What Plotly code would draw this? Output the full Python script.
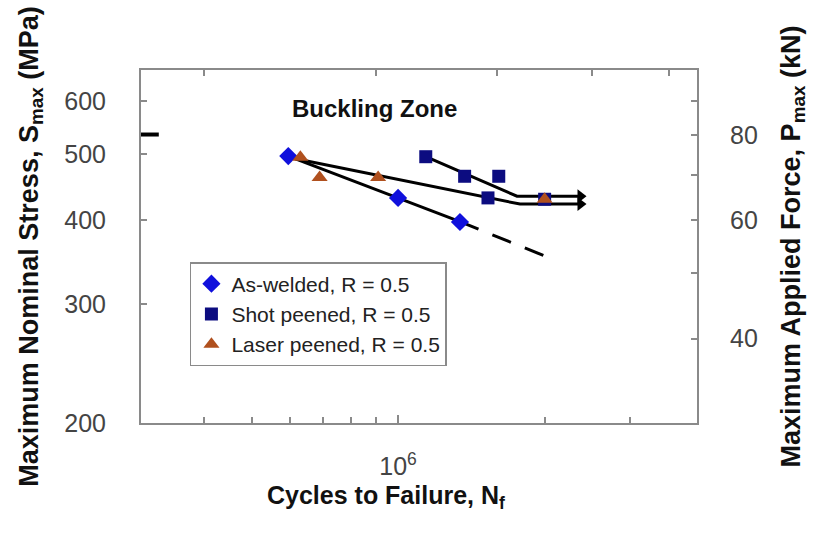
import math
import plotly.graph_objects as go

# ---- data ----
aw_N = [5.95e5, 1.0e6, 1.34e6]
aw_S = [497, 431, 397]

sp_N = [1.14e6, 1.37e6, 1.61e6, 1.53e6, 2.0e6]
sp_S = [496, 464, 464, 431, 429]

lp_N = [6.3e5, 6.9e5, 9.1e5, 2.0e6]
lp_S = [495, 462, 462, 429]

aw_fit_N = [5.95e5, 1.34e6]
aw_fit_S = [497, 397.5]
aw_ext_N = [1.34e6, 2.03e6]
aw_ext_S = [397.5, 352]

sp_fit_N = [1.14e6, 1.755e6, 2.37e6]
sp_fit_S = [496, 433.5, 433.5]
lp_fit_N = [5.95e5, 1.78e6, 2.37e6]
lp_fit_S = [495, 422, 422]

buckling_S = 535

x_major = [1e6]
x_major_text = ["10<sup>6</sup>"]
x_minor = [4e5, 5e5, 6e5, 7e5, 8e5, 9e5, 2e6, 3e6]
x_top_ticks = [4.0e5, 9.0e5, 1.6e6, 2.5e6, 3.6e6]
y_ticks = [200, 300, 400, 500, 600]
p_major = [40, 60, 80]
p_minor = [50, 70, 90]

AREA = 0.15  # kN per MPa
S_RANGE = [200, 666.7]
N_RANGE = [10 ** 5.472, 10 ** 6.614]

FONT = "Liberation Sans, Arial, sans-serif"
FRAME = "#8a8a8a"
TICKC = "#444444"
TITLEC = "#111111"

fig = go.Figure()

line_style = dict(color="black", width=3)
fig.add_trace(go.Scatter(x=aw_fit_N, y=aw_fit_S, mode="lines", line=line_style,
                         showlegend=False, hoverinfo="skip"))
fig.add_trace(go.Scatter(x=aw_ext_N, y=aw_ext_S, mode="lines",
                         line=dict(color="black", width=3, dash="20px,15px"),
                         showlegend=False, hoverinfo="skip"))
fig.add_trace(go.Scatter(x=sp_fit_N, y=sp_fit_S, mode="lines", line=line_style,
                         showlegend=False, hoverinfo="skip"))
fig.add_trace(go.Scatter(x=lp_fit_N, y=lp_fit_S, mode="lines", line=line_style,
                         showlegend=False, hoverinfo="skip"))
fig.add_trace(go.Scatter(x=[sp_fit_N[-1], lp_fit_N[-1]], y=[sp_fit_S[-1], lp_fit_S[-1]],
                         mode="markers",
                         marker=dict(symbol="triangle-right", size=12, color="black"),
                         showlegend=False, hoverinfo="skip"))

fig.add_trace(go.Scatter(x=aw_N, y=aw_S, mode="markers", name="As-welded, R = 0.5",
                         marker=dict(symbol="diamond", size=14, color="#1010dc")))
fig.add_trace(go.Scatter(x=sp_N, y=sp_S, mode="markers", name="Shot peened, R = 0.5",
                         marker=dict(symbol="square", size=13, color="#0c0c80")))
fig.add_trace(go.Scatter(x=lp_N, y=lp_S, mode="markers", name="Laser peened, R = 0.5",
                         marker=dict(symbol="triangle-up", size=14, color="#b0501e")))

# invisible traces so the top and right axes are drawn
fig.add_trace(go.Scatter(x=[1e6], y=[300], xaxis="x2", yaxis="y", mode="markers",
                         marker=dict(opacity=0), showlegend=False, hoverinfo="skip"))
fig.add_trace(go.Scatter(x=[1e6], y=[300 * AREA], xaxis="x", yaxis="y2", mode="markers",
                         marker=dict(opacity=0), showlegend=False, hoverinfo="skip"))

fig.add_shape(type="line", xref="x domain", yref="y", x0=0, x1=0.032,
              y0=buckling_S, y1=buckling_S, line=dict(color="black", width=4))

fig.add_annotation(text="<b>Buckling Zone</b>", xref="paper", yref="paper",
                   x=0.42, y=0.892, xanchor="center", yanchor="middle", showarrow=False,
                   font=dict(family=FONT, size=24, color=TITLEC))

fig.add_annotation(text="<b>Cycles to Failure, N<sub>f</sub></b>", xref="paper", yref="paper",
                   x=0.44, y=-0.21, xanchor="center", yanchor="middle", showarrow=False,
                   font=dict(family=FONT, size=25, color=TITLEC))

tick_common = dict(ticks="inside", tickcolor=FRAME, tickwidth=1.5,
                   showline=True, linecolor=FRAME, linewidth=2,
                   showgrid=False, zeroline=False)

fig.update_layout(
    width=815, height=535,
    margin=dict(l=141, r=118, t=70, b=112),
    plot_bgcolor="white", paper_bgcolor="white",
    font=dict(family=FONT, color=TICKC),
    xaxis=dict(type="log", range=[math.log10(N_RANGE[0]), math.log10(N_RANGE[1])],
               tickmode="array", tickvals=x_major, ticktext=x_major_text, ticklen=8,
               tickfont=dict(size=25, color=TICKC), ticklabelstandoff=20,
               minor=dict(tickmode="array", tickvals=x_minor, ticks="inside",
                          ticklen=6, tickcolor=FRAME, tickwidth=1.5),
               **tick_common),
    xaxis2=dict(type="log", range=[math.log10(N_RANGE[0]), math.log10(N_RANGE[1])],
                overlaying="x", side="top", tickmode="array", tickvals=[], ticklen=6,
                minor=dict(tickmode="array", tickvals=x_top_ticks, ticks="inside",
                           ticklen=6, tickcolor=FRAME, tickwidth=1.5),
                **tick_common),
    yaxis=dict(type="log", range=[math.log10(S_RANGE[0]), math.log10(S_RANGE[1])],
               tickmode="array", tickvals=y_ticks, ticktext=[str(v) for v in y_ticks],
               ticklen=6, tickfont=dict(size=25, color=TICKC), ticklabelstandoff=28,
               title=dict(text="<b>Maximum Nominal Stress, S<sub>max</sub> (MPa)</b>",
                          standoff=18, font=dict(size=27, color=TITLEC)),
               **tick_common),
    yaxis2=dict(type="log", range=[math.log10(S_RANGE[0] * AREA), math.log10(S_RANGE[1] * AREA)],
                overlaying="y", side="right", tickmode="array", tickvals=p_major,
                ticktext=[str(v) for v in p_major], ticklen=6,
                minor=dict(tickmode="array", tickvals=p_minor, ticks="inside",
                           ticklen=6, tickcolor=FRAME, tickwidth=1.5),
                tickfont=dict(size=25, color=TICKC), ticklabelstandoff=26,
                title=dict(text="<b>Maximum Applied Force, P<sub>max</sub> (kN)</b>",
                           standoff=24, font=dict(size=27, color=TITLEC)),
                **tick_common),
    legend=dict(x=0.088, y=0.456, xanchor="left", yanchor="top",
                bgcolor="white", bordercolor=FRAME, borderwidth=1.5,
                font=dict(family=FONT, size=21, color="#222222"),
                itemwidth=30, tracegroupgap=0),
    showlegend=True,
)

fig.write_html("out.html")
